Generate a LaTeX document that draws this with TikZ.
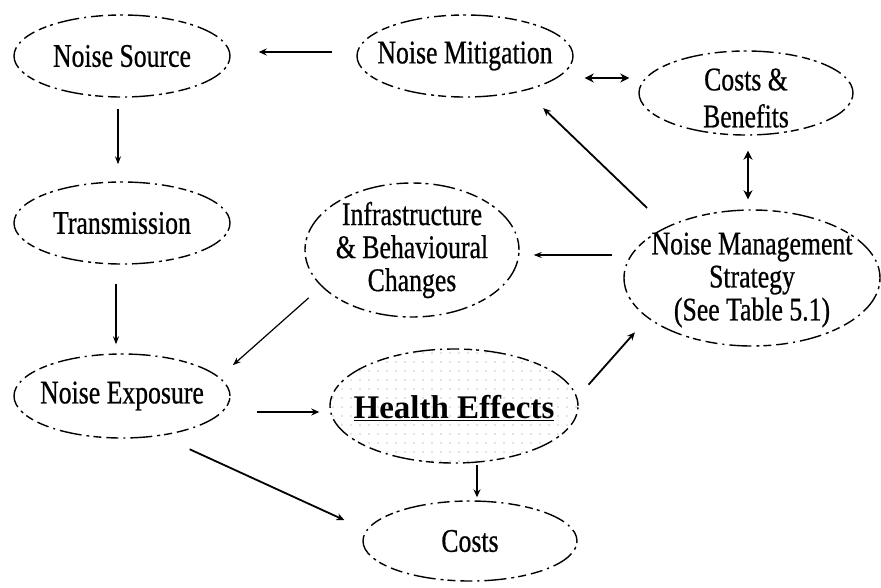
\documentclass[tikz,border=0pt]{standalone}
\usepackage{fontspec}
\setmainfont{Liberation Serif}[FakeStretch=0.78,FakeBold=0.6]
\newfontfamily\hefont{Liberation Serif}
\usetikzlibrary{shapes.geometric,arrows.meta,patterns.meta}
\begin{document}
\begin{tikzpicture}[x=1pt,y=-1pt,
  bub/.style={ellipse,draw,line width=1.4pt,inner sep=0pt,
    dash pattern=on 12pt off 5pt on 2pt off 5pt on 22pt off 5pt on 3pt off 4pt on 8pt off 5pt},
  lbl/.style={align=center,inner sep=0pt,font=\fontsize{33}{33}\selectfont},
  arr/.style={line width=1.8pt,-{Stealth[length=8pt,width=7pt]}},
  thinarr/.style={line width=1.2pt,-{Stealth[length=8pt,width=6pt]}},
  dbl/.style={line width=2pt,{Stealth[length=9pt,width=9pt]}-{Stealth[length=9pt,width=9pt]}}]
\useasboundingbox (0,0) rectangle (881,587);
\node[bub,minimum width=216,minimum height=82] (src) at (122,56) {};
\node[bub,minimum width=216,minimum height=82] (mit) at (465,56) {};
\node[bub,minimum width=214,minimum height=84] (cb) at (746,93) {};
\node[bub,minimum width=216,minimum height=82] (tra) at (122,223) {};
\node[bub,minimum width=214,minimum height=134] (inf) at (412,250) {};
\node[bub,minimum width=256,minimum height=136] (nms) at (752,278) {};
\node[bub,minimum width=216,minimum height=84] (exp) at (122,396) {};
\node[bub,minimum width=248,minimum height=114,pattern={Dots[distance=9pt,radius=0.7pt]},pattern color=black!45] (he) at (454,406) {};
\node[bub,minimum width=214,minimum height=80] (cst) at (470,541) {};
% labels
\node[lbl] (srcT) at (src) {Noise Source};
\node[lbl] (mitT) at (mit) {Noise Mitigation};
\node[lbl,font=\fontsize{33}{37}\selectfont] (cbT) at ([yshift=-5pt]cb.center) {Costs \&\\Benefits};
\node[lbl] (traT) at (tra) {Transmission};
\node[lbl] (infT) at (inf) {Infrastructure\\\& Behavioural\\Changes};
\node[lbl] (nmsT) at ([yshift=-2pt]nms.center) {Noise Management\\Strategy\\(See Table 5.1)};
\node[lbl] (expT) at (exp) {Noise Exposure};
\node[lbl,font=\hefont\bfseries\fontsize{33}{33}\selectfont] (heT) at ([yshift=-2pt]he.center) {\underline{Health Effects}};
\node[lbl] (cstT) at (cst) {Costs};
% connectors
\draw[arr,shorten <=24pt,shorten >=28pt] ([yshift=4pt]mit.west) -- ([yshift=4pt]src.east);
\draw[thinarr,shorten <=11pt,shorten >=17pt] ([xshift=-4pt]src.south) -- ([xshift=-4pt]tra.north);
\draw[thinarr,shorten <=19pt,shorten >=9pt] ([xshift=-6pt]tra.south) -- ([xshift=-6pt]exp.north);
\draw[dbl,shorten <=11pt,shorten >=9pt] ([yshift=-22pt]mit.east) -- ([yshift=15pt]cb.west);
\draw[dbl,shorten <=15pt,shorten >=10pt] ([xshift=2pt]cb.south) -- ([xshift=-4pt]nms.north);
\draw[arr,shorten <=27pt,shorten >=25pt] (nms.149) -- (mit.-30);
\draw[thinarr,shorten <=11pt,shorten >=14pt] ([yshift=23pt]nms.west) -- ([yshift=-5pt]inf.east);
\draw[thinarr,shorten <=17pt,shorten >=18pt] (inf.202) -- (exp.11);
\draw[arr,line width=2.6pt,shorten <=26pt,shorten >=10pt] ([yshift=-16pt]exp.east) -- ([yshift=-6pt]he.west);
\draw[arr,shorten <=32pt,shorten >=24pt] (exp.-46.5) -- (cst.174);
\draw[arr,shorten <=17pt,shorten >=19pt] (he.4.7) -- (nms.201.7);
\draw[arr,line width=2.2pt,shorten <=1pt,shorten >=3pt] ([xshift=23pt]he.south) -- ([xshift=7pt]cst.north);
\end{tikzpicture}
\end{document}
